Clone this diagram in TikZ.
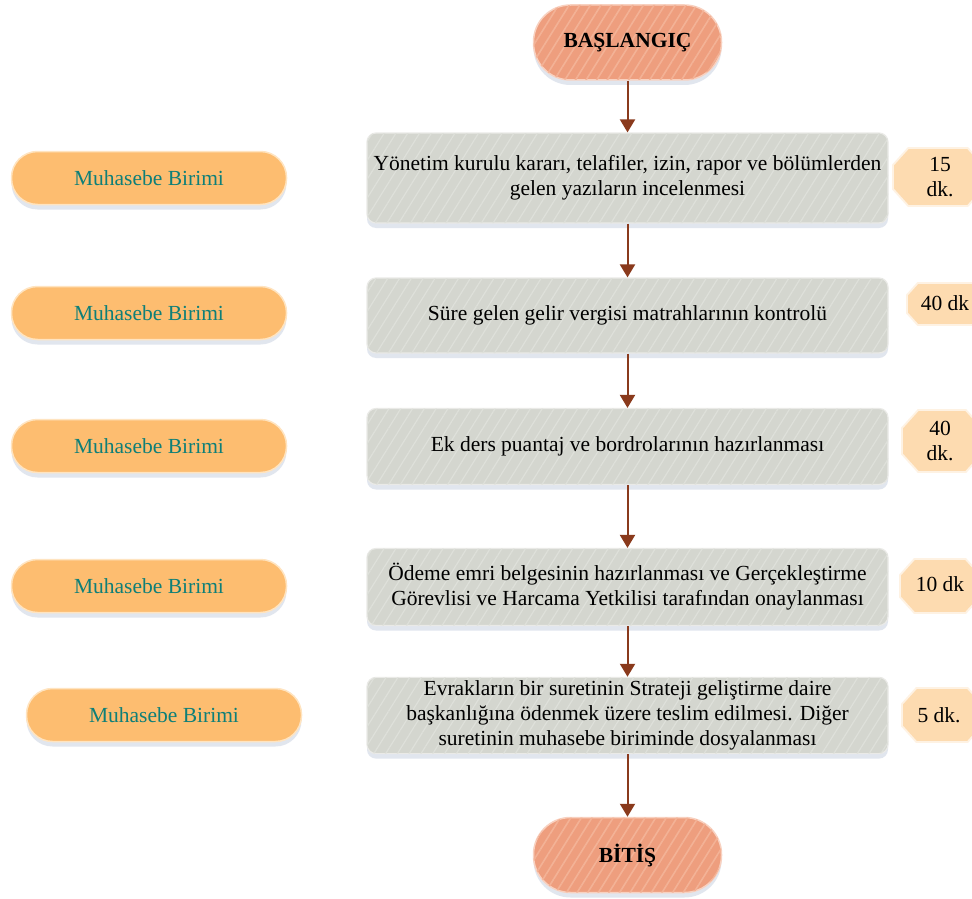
\documentclass[tikz,border=0pt]{standalone}
\usepackage{fontspec}
\setmainfont{Liberation Serif}
\usetikzlibrary{shadows,patterns.meta,arrows.meta}
\definecolor{termfill}{HTML}{EE9E7E}
\definecolor{termstripe}{HTML}{F3B296}
\definecolor{boxfill}{HTML}{D4D6CF}
\definecolor{boxstripe}{HTML}{DEE0DA}
\definecolor{pillfill}{HTML}{FDBD70}
\definecolor{pilledge}{HTML}{FFE4C0}
\definecolor{octfill}{HTML}{FDDBB0}
\definecolor{tealtext}{HTML}{0E7F78}
\definecolor{arrowc}{HTML}{8A3A1C}
\definecolor{shadowc}{HTML}{D5DCE8}
\tikzset{
  basefont/.style={font=\fontsize{21.5}{25}\selectfont},
  softshadow/.style={drop shadow={shadow xshift=0pt,shadow yshift=-5pt,fill=shadowc,opacity=0.7}},
  term/.style={basefont,font=\fontsize{21.5}{25}\selectfont\bfseries,rectangle,rounded corners=37pt,
    minimum width=188pt,minimum height=75pt,fill=termfill,draw=termstripe!60!white,line width=1.5pt,
    softshadow,
    postaction={pattern={Lines[angle=58,distance=9pt,line width=1.6pt]},pattern color=termstripe}},
  stepbox/.style={basefont,rectangle,rounded corners=9pt,minimum width=521pt,
    fill=boxfill,draw=boxfill!50!white,line width=1.2pt,align=center,softshadow,
    postaction={pattern={Lines[angle=58,distance=10pt,line width=1.2pt]},pattern color=boxstripe}},
  pill/.style={basefont,rectangle,rounded corners=26pt,minimum width=275pt,minimum height=53pt,
    fill=pillfill,draw=pilledge,line width=1.5pt,text=tealtext,softshadow},
  octtext/.style={basefont,inner sep=0pt,align=center},
  octpath/.style={fill=octfill,draw=octfill!35!white,line width=1.8pt},
  arr/.style={draw=arrowc,line width=2pt,-{Triangle[length=13pt,width=15pt]}},
}
% octagon: centre x, centre y, width, height, chamfer
\newcommand\octshape[5]{%
  \path[octpath] ({#1-#3/2},{#2-#4/2+#5}) -- ({#1-#3/2+#5*0.9},{#2-#4/2}) -- ({#1+#3/2-#5*0.9},{#2-#4/2})
    -- ({#1+#3/2},{#2-#4/2+#5}) -- ({#1+#3/2},{#2+#4/2-#5}) -- ({#1+#3/2-#5*0.9},{#2+#4/2})
    -- ({#1-#3/2+#5*0.9},{#2+#4/2}) -- ({#1-#3/2},{#2+#4/2-#5}) -- cycle;}
\begin{document}
\begin{tikzpicture}[x=1pt,y=-1pt]
\useasboundingbox[fill=white] (0,0) rectangle (972,899);
% terminals
\node[term] (start) at (627.5,42.5) {BAŞLANGIÇ};
\node[term] (end) at (627.5,855) {BİTİŞ};
% steps
\node[stepbox,minimum height=90pt] (s1) at (627.5,178) {Yönetim kurulu kararı, telafiler, izin, rapor ve bölümlerden\\gelen yazıların incelenmesi};
\node[stepbox,minimum height=75pt] (s2) at (627.5,315.5) {Süre gelen gelir vergisi matrahlarının kontrolü};
\node[stepbox,minimum height=76pt] (s3) at (627.5,446.5) {Ek ders puantaj ve bordrolarının hazırlanması};
\node[stepbox,minimum height=77pt] (s4) at (627.5,587) {Ödeme emri belgesinin hazırlanması ve Gerçekleştirme\\Görevlisi ve Harcama Yetkilisi tarafından onaylanması};
\node[stepbox,minimum height=75pt] (s5) at (627.5,715.5) {Evrakların bir suretinin Strateji geliştirme daire\\başkanlığına ödenmek üzere teslim edilmesi. Diğer\\suretinin muhasebe biriminde dosyalanması};
% left units
\node[pill] (u1) at (149,178) {Muhasebe Birimi};
\node[pill] (u2) at (149,313) {Muhasebe Birimi};
\node[pill] (u3) at (149,446) {Muhasebe Birimi};
\node[pill] (u4) at (149,586) {Muhasebe Birimi};
\node[pill] (u5) at (164,715) {Muhasebe Birimi};
% durations
\octshape{938}{177}{90}{58}{17}
\octshape{946}{304}{78}{42}{12}
\octshape{942}{441}{80}{62}{18}
\octshape{940}{586}{80}{54}{16}
\octshape{942}{715}{80}{54}{16}
\node[octtext] (d1) at (940,177) {15\\dk.};
\node[octtext] (d2) at (945,303) {40 dk};
\node[octtext] (d3) at (940,441) {40\\dk.};
\node[octtext] (d4) at (940,584) {10 dk};
\node[octtext] (d5) at (939,715) {5 dk.};
% arrows
\draw[arr] (start.south) -- (s1.north);
\draw[arr] (s1.south) -- (s2.north);
\draw[arr] (s2.south) -- (s3.north);
\draw[arr] (s3.south) -- (s4.north);
\draw[arr] (s4.south) -- (s5.north);
\draw[arr] (s5.south) -- (end.north);
\end{tikzpicture}
\end{document}
